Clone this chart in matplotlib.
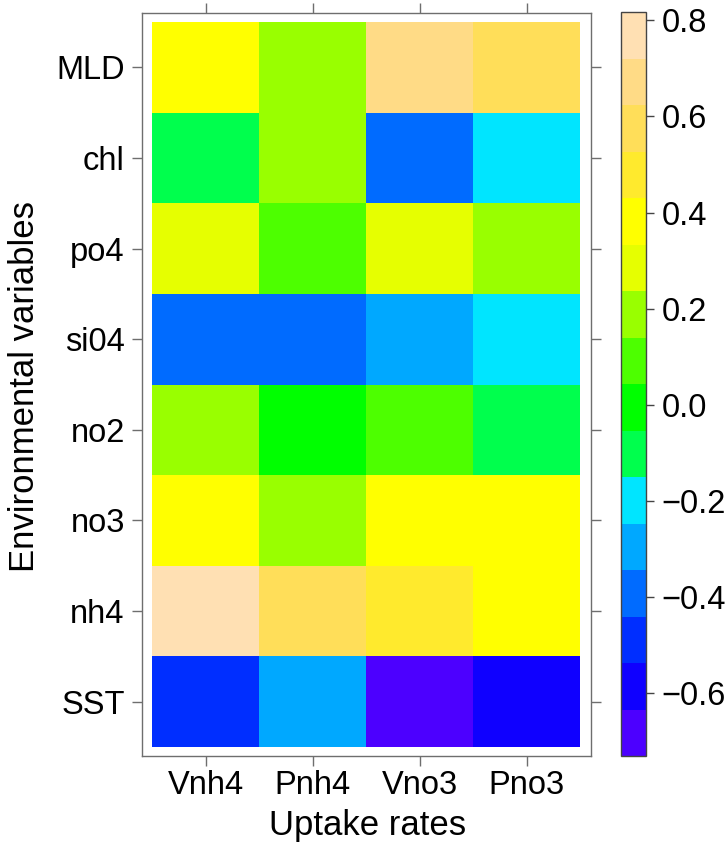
import colorsys
import numpy as np
import matplotlib
matplotlib.use("Agg")
import matplotlib.pyplot as plt
from matplotlib.colors import ListedColormap, BoundaryNorm
from matplotlib.ticker import FuncFormatter

plt.rcParams['font.family'] = ['Liberation Sans', 'DejaVu Sans']

# ---- data ----
uptake = ["Vnh4", "Pnh4", "Vno3", "Pno3"]
env_vars = ["SST", "nh4", "no3", "no2", "si04", "po4", "chl", "MLD"]  # bottom to top
SST  = [-0.49, -0.295, -0.73, -0.585]
nh4  = [0.817, 0.575, 0.48, 0.38]
no3  = [0.38, 0.19, 0.38, 0.38]
no2  = [0.19, -0.005, 0.09, -0.10]
si04 = [-0.39, -0.39, -0.295, -0.20]
po4  = [0.285, 0.09, 0.285, 0.19]
chl  = [-0.10, 0.19, -0.39, -0.20]
MLD  = [0.38, 0.19, 0.67, 0.575]
cbar_ticks = [-0.6, -0.4, -0.2, 0.0, 0.2, 0.4, 0.6, 0.8]

Z = np.array([SST, nh4, no3, no2, si04, po4, chl, MLD])


def topo_colors(n):
    j = n // 3
    k = n // 3
    i = n - j - k
    cols = []
    for h in np.linspace(43 / 60, 31 / 60, i):
        cols.append(colorsys.hsv_to_rgb(h, 1, 1))
    for h in np.linspace(23 / 60, 11 / 60, j):
        cols.append(colorsys.hsv_to_rgb(h, 1, 1))
    for h, s in zip(np.linspace(10 / 60, 6 / 60, k), np.linspace(1, 0.3, k)):
        cols.append(colorsys.hsv_to_rgb(h, s, 1))
    return cols


ncut = 16
cols = topo_colors(ncut)
cmap = ListedColormap(cols).with_extremes(over=cols[-1], under=cols[0])
bounds = np.linspace(Z.min(), Z.max(), ncut + 1)
norm = BoundaryNorm(bounds, ncut)

W, H = 728, 844
TICK_FS = 23.5
LAB_FS = 25
fig = plt.figure(figsize=(W / 100, H / 100), dpi=100)
ax = fig.add_axes([141.5 / W, 1 - 756 / H, 449.5 / W, 743 / H])

x = np.arange(1, len(uptake) + 1)
y = np.arange(1, len(env_vars) + 1)
xe = np.arange(0.5, len(uptake) + 1)
ye = np.arange(0.5, len(env_vars) + 1)
mesh = ax.pcolormesh(xe, ye, Z, cmap=cmap, norm=norm, edgecolors='none')
ax.set_xlim(0.4, len(uptake) + 0.6)
ax.set_ylim(0.4, len(env_vars) + 0.6)

frame_col = '#6e6e6e'
for s in ax.spines.values():
    s.set_color(frame_col)
    s.set_linewidth(1.0)

ax.set_xticks(x)
ax.set_xticklabels(uptake)
ax.set_yticks(y)
ax.set_yticklabels(env_vars)
ax.tick_params(axis='both', which='both', direction='out', length=7, width=1.0,
               color=frame_col, labelsize=TICK_FS,
               top=True, right=True, labeltop=False, labelright=False)
ax.tick_params(axis='x', pad=3)
ax.tick_params(axis='y', pad=5)

fig.text(368 / W, 1 - 826 / H, "Uptake rates", fontsize=LAB_FS,
         ha='center', va='center')
fig.text(25 / W, 1 - 386 / H, "Environmental variables", fontsize=LAB_FS,
         ha='center', va='center', rotation=90)

cax = fig.add_axes([621 / W, 1 - 756 / H, 25 / W, 744 / H])
cb = fig.colorbar(mesh, cax=cax, ticks=cbar_ticks)
cb.outline.set_edgecolor('#444444')
cb.outline.set_linewidth(1.0)


def fmt(v, pos):
    s = f"{v:.1f}"
    if s == "-0.0":
        s = "0.0"
    return s.replace("-", "\u2212")


cb.ax.yaxis.set_major_formatter(FuncFormatter(fmt))
cb.ax.tick_params(length=6, width=1.0, color='#444444', labelsize=TICK_FS, pad=5)
cb.ax.minorticks_off()

fig.savefig("out.png", dpi=100)
